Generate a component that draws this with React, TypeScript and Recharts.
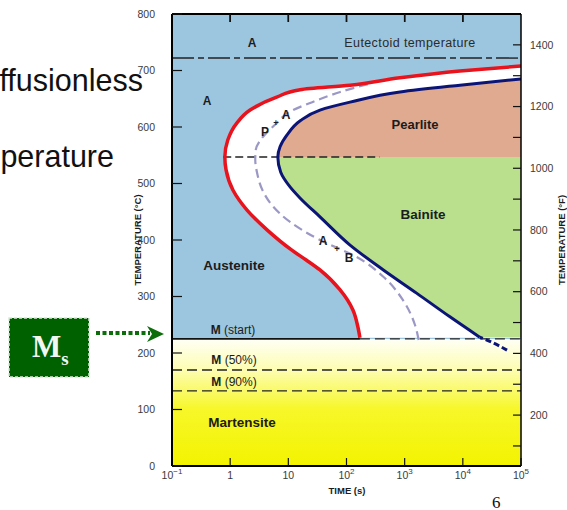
import React from "react";
import { ComposedChart, Line, Area, XAxis, YAxis, CartesianGrid } from "recharts";

const T_MIN = 0.1;
const T_MAX = 100000;
const TEMP_TOP = 800;

// transformation start (red), °C and seconds
const START_TEMPS = [227, 246, 276, 312, 347, 365, 382, 418, 453, 488, 524, 547, 577, 607, 630, 653, 666, 674, 687, 699, 708];
const START_TIMES = [170, 157, 129, 77, 35, 20, 11.5, 4.3, 1.95, 1.12, 0.85, 0.81, 0.91, 1.3, 2.2, 6.3, 16, 115, 830, 8900, 100000];

// transformation end (navy)
const END_TEMPS = [228, 264, 306, 347, 391, 441, 474, 494, 520, 547, 565, 586, 611, 630, 644, 662, 674, 685];
const END_TIMES = [19500, 6000, 1600, 430, 115, 35, 16, 10.7, 7.4, 6.6, 7.2, 9.5, 16, 35, 115, 830, 8900, 100000];
const END_TAIL_TEMPS = [205, 218, 228];
const END_TAIL_TIMES = [57500, 33000, 19500];

// 50% line (dashed lavender)
const MID_TEMPS = [223, 250, 294, 335, 370, 400, 432, 462, 488, 519, 542, 559, 580, 604, 630, 642, 662, 678];
const MID_TIMES = [1740, 1500, 930, 430, 150, 35, 10.7, 5.2, 3.6, 2.9, 2.7, 2.75, 3.5, 5.9, 12, 23, 78, 275];

const EUTECTOID = 722;
const M_START = 225;
const M_50 = 170;
const M_90 = 133;
const NOSE_TEMP = 547;
const NOSE_LINE_TIMES = [0.76, 370];

const TEMP_TICKS = [0, 100, 200, 300, 400, 500, 600, 700, 800];
const F_DOMAIN = [35, 1500];
const F_TICKS = [100, 200, 300, 400, 500, 600, 700, 800, 900, 1000, 1100, 1200, 1300, 1400];
const TIME_TICKS = [0.1, 1, 10, 100, 1000, 10000, 100000];
const TIME_LABELS = [["10", "\u22121"], ["1", ""], ["10", ""], ["10", "2"], ["10", "3"], ["10", "4"], ["10", "5"]];
const TOP_TICKS = [1, 10, 100, 1000, 10000];
const TOP_TICK_DEPTH = 14; // °C below the top edge
const TOP_TICK_HALF = 1.03; // time factor either side of a tick

const pts = (temps: number[], times: number[]) => temps.map((T, i) => ({ T, t: times[i] }));
const toRight = (temps: number[], times: number[]) => temps.map((T, i) => ({ T, r: [times[i], T_MAX] }));
const hline = (T: number, a = T_MIN, b = T_MAX) => [{ T, t: a }, { T, t: b }];

const startData = pts(START_TEMPS, START_TIMES);
const endData = pts(END_TEMPS, END_TIMES);
const tailData = pts(END_TAIL_TEMPS, END_TAIL_TIMES);
const midData = pts(MID_TEMPS, MID_TIMES);

const whiteFill = toRight(START_TEMPS, START_TIMES);
const pearliteFill = toRight(
  END_TEMPS.filter((T) => T >= NOSE_TEMP),
  END_TIMES.filter((_, i) => END_TEMPS[i] >= NOSE_TEMP)
);
const bainiteFill = toRight(
  END_TEMPS.filter((T) => T <= NOSE_TEMP),
  END_TIMES.filter((_, i) => END_TEMPS[i] <= NOSE_TEMP)
);
const martFill = [
  { T: 0, r: [T_MIN, T_MAX] },
  { T: M_START, r: [T_MIN, T_MAX] },
];
// thin bands hanging from the top edge, one per top tick
const topTickBand = (t: number) => [
  { T: TEMP_TOP - TOP_TICK_DEPTH, r: [t / TOP_TICK_HALF, t * TOP_TICK_HALF] },
  { T: TEMP_TOP, r: [t / TOP_TICK_HALF, t * TOP_TICK_HALF] },
];
// keeps the °F axis in the chart (drawn without stroke)
const fAxisSpan = F_DOMAIN.map((F) => ({ F, t: T_MAX }));

const tickFont = { fontSize: 10.5, fill: "#3a3a3a", fontFamily: "Liberation Sans, Arial, sans-serif" };

function TimeTick(props: any) {
  const { x, y, payload } = props;
  const i = TIME_TICKS.indexOf(payload.value);
  const [base, exp] = TIME_LABELS[i] || ["", ""];
  return (
    <text x={x} y={y + 13} textAnchor="middle" {...tickFont}>
      {base}
      {exp && (
        <tspan dy={-5} fontSize={8}>
          {exp}
        </tspan>
      )}
    </text>
  );
}

function Lbl({ x, y, children, size = 12, bold = false, style = {} }: any) {
  return (
    <div
      style={{
        position: "absolute",
        left: x,
        top: y,
        transform: "translate(-50%, -50%)",
        fontSize: size,
        fontWeight: bold ? 700 : 400,
        color: "#1c1c1c",
        whiteSpace: "nowrap",
        lineHeight: 1,
        ...style,
      }}
    >
      {children}
    </div>
  );
}

export default function App() {
  const line = { dot: false, activeDot: false, isAnimationActive: false, dataKey: "t" } as any;
  const fill = { dataKey: "r", stroke: "none", isAnimationActive: false, activeDot: false, fillOpacity: 1 } as any;

  return (
    <div
      style={{
        position: "absolute",
        left: 0,
        top: 0,
        width: 567,
        height: 510,
        overflow: "hidden",
        background: "#fff",
        fontFamily: "Liberation Sans, Arial, sans-serif",
      }}
    >
      {/* slide text behind the figure */}
      <div style={{ position: "absolute", right: 567 - 143, top: 65, fontSize: 30.5, lineHeight: 1, color: "#111" }}>
        Diffusionless
      </div>
      <div style={{ position: "absolute", right: 567 - 114, top: 141, fontSize: 30.5, lineHeight: 1, color: "#111" }}>
        temperature
      </div>

      <div style={{ position: "absolute", left: 0, top: 0 }}>
        <ComposedChart
          width={567}
          height={510}
          layout="vertical"
          margin={{ top: 4, right: 6, bottom: 14, left: 132 }}
        >
          <defs>
            <linearGradient id="mart" x1="0" y1="0" x2="0" y2="1">
              <stop offset="0%" stopColor="#fffff6" />
              <stop offset="25%" stopColor="#fdfdb0" />
              <stop offset="55%" stopColor="#f7f72a" />
              <stop offset="100%" stopColor="#f3f300" />
            </linearGradient>
          </defs>
          <CartesianGrid horizontal={false} vertical={false} fill="#9cc6df" />
          <XAxis
            type="number"
            scale="log"
            domain={[T_MIN, T_MAX]}
            ticks={TIME_TICKS}
            allowDataOverflow
            height={30}
            tickSize={-8}
            tickMargin={8}
            tick={<TimeTick />}
            axisLine={{ stroke: "#000", strokeWidth: 2 }}
            tickLine={{ stroke: "#111", strokeWidth: 1.2 }}
          />
          <XAxis
            xAxisId="top"
            orientation="top"
            type="number"
            scale="log"
            domain={[T_MIN, T_MAX]}
            ticks={TOP_TICKS}
            interval={0}
            allowDataOverflow
            height={10}
            tickSize={-8}
            tickMargin={30}
            tickFormatter={() => ""}
            axisLine={{ stroke: "#000", strokeWidth: 2.2 }}
            tickLine={{ stroke: "#111", strokeWidth: 1.4 }}
          />
          <YAxis
            type="number"
            dataKey="T"
            domain={[0, TEMP_TOP]}
            ticks={TEMP_TICKS}
            reversed
            allowDataOverflow
            width={40}
            tickSize={-10}
            tickMargin={27}
            tick={tickFont}
            axisLine={{ stroke: "#000", strokeWidth: 2 }}
            tickLine={{ stroke: "#111", strokeWidth: 1.2 }}
          />
          <YAxis
            yAxisId="F"
            orientation="right"
            type="number"
            dataKey="F"
            domain={F_DOMAIN}
            ticks={F_TICKS}
            reversed
            allowDataOverflow
            width={40}
            tickSize={-8}
            tickMargin={17}
            tick={tickFont}
            tickFormatter={(v: number) => (v % 200 === 0 ? String(v) : "")}
            axisLine={{ stroke: "#000", strokeWidth: 1.5 }}
            tickLine={{ stroke: "#111", strokeWidth: 1.2 }}
          />

          <Area {...fill} data={martFill} type="linear" fill="url(#mart)" />
          <Area {...fill} data={whiteFill} type="monotone" fill="#ffffff" />
          <Area {...fill} data={pearliteFill} type="monotone" fill="#dfaa90" />
          <Area {...fill} data={bainiteFill} type="monotone" fill="#bae08d" />
          {TOP_TICKS.map((t) => (
            <Area key={t} {...fill} data={topTickBand(t)} type="linear" fill="#111" />
          ))}

          <Line {...line} xAxisId="top" data={hline(EUTECTOID)} type="linear" stroke="#222" strokeWidth={1.4} strokeDasharray="22 4 6 4" />
          <Line {...line} data={hline(M_START, T_MIN, START_TIMES[0])} type="linear" stroke="#111" strokeWidth={1.6} />
          <Line {...line} data={hline(M_START, START_TIMES[0], T_MAX)} type="linear" stroke="#222" strokeWidth={1.4} strokeDasharray="10 5" />
          <Line {...line} data={hline(M_50)} type="linear" stroke="#222" strokeWidth={1.4} strokeDasharray="10 5" />
          <Line {...line} data={hline(M_90)} type="linear" stroke="#222" strokeWidth={1.4} strokeDasharray="10 5" />
          <Line {...line} data={hline(NOSE_TEMP, NOSE_LINE_TIMES[0], NOSE_LINE_TIMES[1])} type="linear" stroke="#222" strokeWidth={1.4} strokeDasharray="8 4" />
          <Line {...line} data={hline(TEMP_TOP)} type="linear" stroke="#000" strokeWidth={2.2} />

          <Line {...line} data={midData} type="monotone" stroke="#9b98c6" strokeWidth={2.2} strokeDasharray="9 5" />
          <Line {...line} data={startData} type="monotone" stroke="#e8131c" strokeWidth={3.5} />
          <Line {...line} data={endData} type="monotone" stroke="#0b1577" strokeWidth={3} />
          <Line {...line} data={tailData} type="monotone" stroke="#0b1577" strokeWidth={3} strokeDasharray="6 3" />
          <Line {...line} yAxisId="F" data={fAxisSpan} type="linear" stroke="none" />
        </ComposedChart>
      </div>

      {/* region labels */}
      <Lbl x={252} y={43} size={12} bold>A</Lbl>
      <Lbl x={410} y={43} size={12.5} style={{ letterSpacing: 0.4, color: "#2a2a2a" }}>Eutectoid temperature</Lbl>
      <Lbl x={207} y={101} size={12} bold>A</Lbl>
      <Lbl x={265} y={132} size={12} bold>P</Lbl>
      <Lbl x={276} y={123} size={9} bold>+</Lbl>
      <Lbl x={286} y={115} size={12} bold>A</Lbl>
      <Lbl x={415} y={124} size={13} bold>Pearlite</Lbl>
      <Lbl x={423} y={215} size={13.5} bold>Bainite</Lbl>
      <Lbl x={323} y={241} size={12} bold>A</Lbl>
      <Lbl x={337} y={249} size={9} bold>+</Lbl>
      <Lbl x={349} y={258} size={12} bold>B</Lbl>
      <Lbl x={234} y={266} size={13.5} bold>Austenite</Lbl>
      <Lbl x={233} y={330} size={12}><b>M</b> (start)</Lbl>
      <Lbl x={234} y={360} size={12}><b>M</b> (50%)</Lbl>
      <Lbl x={234} y={382} size={12}><b>M</b> (90%)</Lbl>
      <Lbl x={242} y={423} size={13.5} bold>Martensite</Lbl>

      {/* axis titles */}
      <Lbl x={138} y={240} size={9.5} bold style={{ transform: "translate(-50%, -50%) rotate(-90deg)" }}>
        TEMPERATURE (°C)
      </Lbl>
      <Lbl x={562} y={240} size={9.5} bold style={{ transform: "translate(-50%, -50%) rotate(-90deg)" }}>
        TEMPERATURE (°F)
      </Lbl>
      <Lbl x={347} y={491} size={9.5} bold>TIME (s)</Lbl>

      {/* Ms callout */}
      <svg width={170} height={80} style={{ position: "absolute", left: 0, top: 310 }}>
        <rect x={9} y={8} width={80} height={59} fill="#006100" stroke="#d8e8d8" strokeWidth={1.5} strokeDasharray="3 2" />
        <text x={32} y={47} fill="#f2f7f2" fontFamily="Liberation Serif, Times New Roman, serif" fontSize={31} fontWeight={700}>
          M
          <tspan dy={8} fontSize={19}>s</tspan>
        </text>
        <line x1={96} y1={23} x2={150} y2={23} stroke="#0b6e0b" strokeWidth={4} strokeDasharray="4 2.5" />
        <polygon points="147,16 164,24 147,32 152,24" fill="#0b6e0b" />
      </svg>

      <div
        style={{
          position: "absolute",
          left: 492,
          top: 494,
          fontFamily: "Liberation Serif, Times New Roman, serif",
          fontSize: 17,
          lineHeight: 1,
          color: "#111",
        }}
      >
        6
      </div>
    </div>
  );
}
